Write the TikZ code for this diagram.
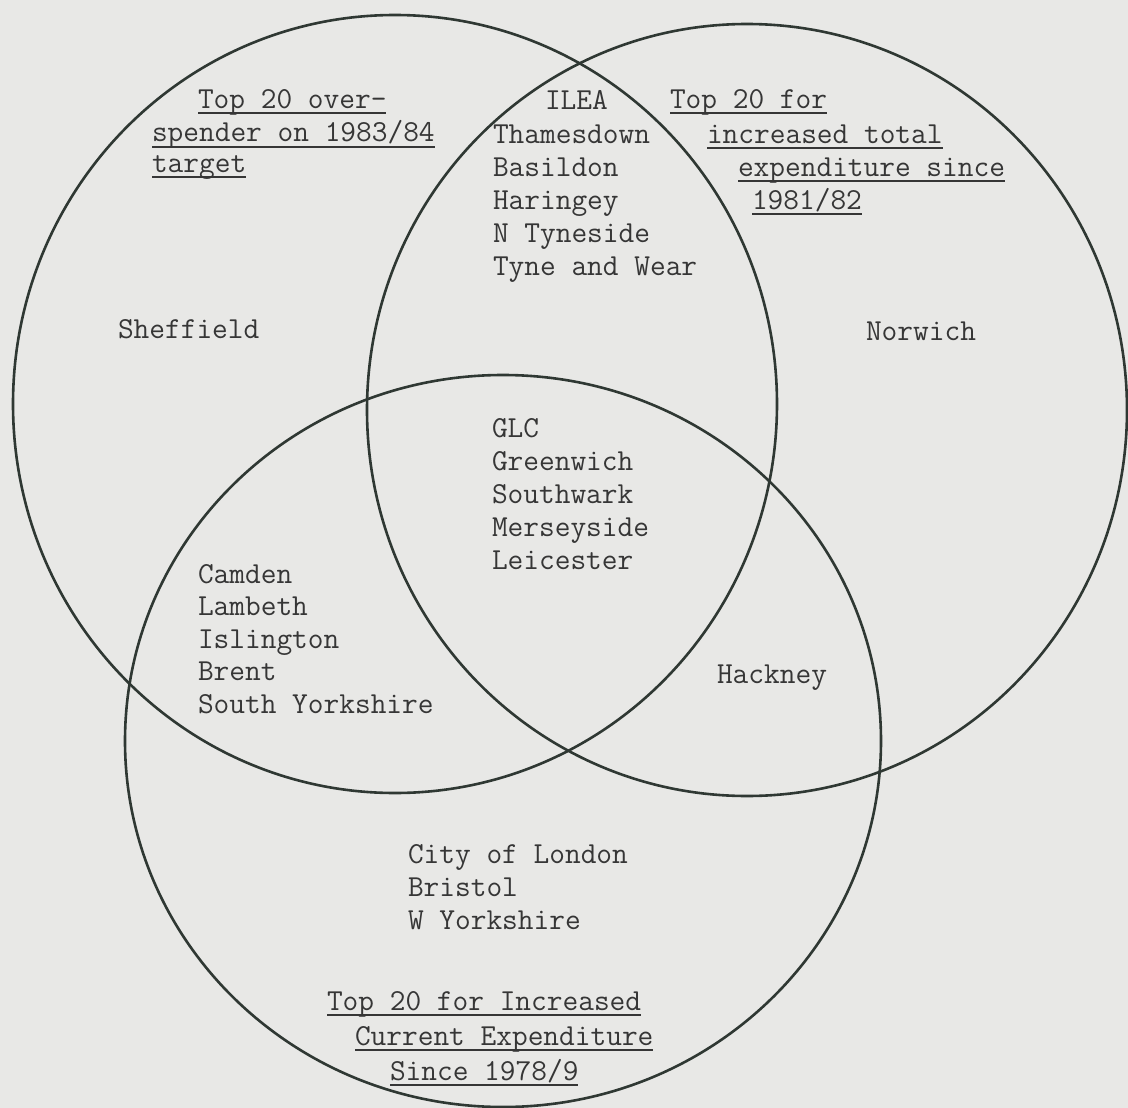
\documentclass[tikz,border=0pt]{standalone}
\usepackage{xcolor}
\definecolor{paper}{HTML}{E8E8E6}
\definecolor{ink}{HTML}{2F3833}
\definecolor{typeink}{HTML}{363636}
\newcommand\tul[1]{\setbox0\hbox{#1}\rlap{\rule[-6pt]{\wd0}{1.8pt}}\box0}
\tikzset{
  ring/.style={draw=ink, line width=2.6pt},
  txt/.style={anchor=base west, inner sep=0pt, outer sep=0pt, text=typeink,
    font=\fontsize{30.5}{33}\selectfont\ttfamily},
}
\begin{document}
\begin{tikzpicture}[x=1pt,y=-1pt]
\fill[paper] (0,0) rectangle (1128,1108);
\useasboundingbox (0,0) rectangle (1128,1108);

% circles
\draw[ring] (395,404) ellipse [x radius=382, y radius=389];
\draw[ring] (747,410) ellipse [x radius=380, y radius=386];
\draw[ring] (503,741) ellipse [x radius=378, y radius=366];

% set labels
\node[txt] (lA1) at (198,108) {\tul{Top 20 over-}};
\node[txt] (lA2) at (152,142) {\tul{spender on 1983/84}};
\node[txt] (lA3) at (152,172) {\tul{target}};

\node[txt] (lB1) at (670,108) {\tul{Top 20 for}};
\node[txt] (lB2) at (707,143) {\tul{increased total}};
\node[txt] (lB3) at (738,176) {\tul{expenditure since}};
\node[txt] (lB4) at (752,209) {\tul{1981/82}};

\node[txt] (lC1) at (327,1010) {\tul{Top 20 for Increased}};
\node[txt] (lC2) at (355,1045) {\tul{Current Expenditure}};
\node[txt] (lC3) at (390,1080) {\tul{Since 1978/9}};

% regions
\node[txt] (sheffield) at (118,338) {Sheffield};
\node[txt] (norwich) at (866,340) {Norwich};

\node[txt] (ilea) at (545,110) {ILEA};
\node[txt] (thamesdown) at (493,143) {Thamesdown};
\node[txt] (basildon) at (493,176) {Basildon};
\node[txt] (haringey) at (493,209) {Haringey};
\node[txt] (ntyneside) at (493,242) {N Tyneside};
\node[txt] (tyneandwear) at (493,275) {Tyne and Wear};

\node[txt] (glc) at (492,437) {GLC};
\node[txt] (greenwich) at (492,470) {Greenwich};
\node[txt] (southwark) at (492,503) {Southwark};
\node[txt] (merseyside) at (492,536) {Merseyside};
\node[txt] (leicester) at (492,569) {Leicester};

\node[txt] (camden) at (198,583) {Camden};
\node[txt] (lambeth) at (198,615) {Lambeth};
\node[txt] (islington) at (198,648) {Islington};
\node[txt] (brent) at (198,680) {Brent};
\node[txt] (syorks) at (198,713) {South Yorkshire};

\node[txt] (hackney) at (717,683) {Hackney};

\node[txt] (city) at (408,863) {City of London};
\node[txt] (bristol) at (408,896) {Bristol};
\node[txt] (wyorks) at (408,929) {W Yorkshire};
\end{tikzpicture}
\end{document}
